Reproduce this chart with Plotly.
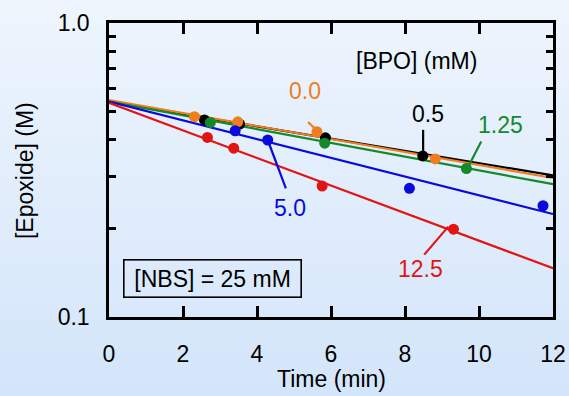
import base64, math
import plotly.graph_objects as go

# ---------------- data ----------------
series_names = ["0.5", "0.0", "1.25", "5.0", "12.5"]
series_colors = ["#000000", "#f07d1e", "#13892c", "#0a0adc", "#e31414"]

t_black = [2.58, 3.53, 5.85, 8.48]
c_black = [0.468, 0.453, 0.407, 0.353]
t_orange = [2.31, 3.48, 5.62, 8.82]
c_orange = [0.480, 0.461, 0.427, 0.345]
t_green = [2.74, 5.83, 9.66]
c_green = [0.459, 0.390, 0.320]
t_blue = [3.41, 4.29, 8.12, 11.73]
c_blue = [0.430, 0.400, 0.274, 0.239]
t_red = [2.66, 3.37, 5.76, 9.31]
c_red = [0.408, 0.375, 0.279, 0.199]

fit_t = [0, 12]
fit_black = [0.540, 0.303]
fit_orange = [0.547, 0.297]
fit_green = [0.540, 0.283]
fit_blue = [0.540, 0.224]
fit_red = [0.535, 0.1465]

x_ticks = [0, 2, 4, 6, 8, 10, 12]
y_ticks = [0.1, 1.0]
y_tick_text = ["0.1", "1.0"]
y_minor = [0.2, 0.3, 0.4, 0.5, 0.6, 0.7, 0.8, 0.9]

pts_t = [t_black, t_orange, t_green, t_blue, t_red]
pts_c = [c_black, c_orange, c_green, c_blue, c_red]
fits = [fit_black, fit_orange, fit_green, fit_blue, fit_red]

# label text position (t, conc) and leader line ends ((t0,c0),(t1,c1))
label_pos = [(8.62, 0.492), (5.29, 0.588), (10.59, 0.450), (4.90, 0.234), (8.42, 0.146)]
leaders = [((8.49, 0.433), (8.49, 0.362)),
           ((5.38, 0.460), (5.58, 0.436)),
           ((10.06, 0.395), (9.74, 0.330)),
           ((4.29, 0.400), (4.78, 0.274)),
           ((8.52, 0.163), (9.17, 0.203))]

FONT = "Liberation Sans, Arial, Helvetica, sans-serif"
FS = 23

fig = go.Figure()

for name, col, f in zip(series_names, series_colors, fits):
    fig.add_trace(go.Scatter(x=fit_t, y=f, mode="lines",
                             line=dict(color=col, width=2.2),
                             showlegend=False, hoverinfo="skip"))
for name, col, (a, b) in zip(series_names, series_colors, leaders):
    fig.add_trace(go.Scatter(x=[a[0], b[0]], y=[a[1], b[1]], mode="lines",
                             line=dict(color=col, width=2.2),
                             showlegend=False, hoverinfo="skip"))
for name, col, tt, cc in zip(series_names, series_colors, pts_t, pts_c):
    fig.add_trace(go.Scatter(x=tt, y=cc, mode="markers", name=name,
                             marker=dict(color=col, size=11),
                             showlegend=False))

annotations = []
for name, col, (lx, ly) in zip(series_names, series_colors, label_pos):
    annotations.append(dict(x=lx, y=math.log10(ly), xref="x", yref="y", text=name,
                            showarrow=False, font=dict(color=col, size=FS, family=FONT),
                            xanchor="center", yanchor="middle"))
annotations.append(dict(x=8.305, y=math.log10(0.7425), xref="x", yref="y", text="[BPO] (mM)",
                        showarrow=False, font=dict(color="black", size=FS, family=FONT),
                        xanchor="center", yanchor="middle"))
annotations.append(dict(x=2.80, y=0.1324, xref="x", yref="paper", text="[NBS] = 25 mM",
                        showarrow=False, font=dict(color="black", size=FS, family=FONT),
                        xanchor="center", yanchor="middle", bordercolor="black",
                        borderwidth=1.6, borderpad=2, width=172, height=32))
annotations.append(dict(x=0.5, y=-0.2105, xref="paper", yref="paper", text="Time (min)",
                        showarrow=False, font=dict(color="black", size=FS, family=FONT),
                        xanchor="center", yanchor="middle"))
annotations.append(dict(x=-0.1908, y=0.4975, xref="paper", yref="paper", text="[Epoxide] (M)",
                        showarrow=False, textangle=-90,
                        font=dict(color="black", size=FS, family=FONT),
                        xanchor="center", yanchor="middle"))

L, R, T, B = 109, 16, 23, 79
W, H = 569, 396
pw, ph = W - L - R, H - T - B

svg = ('<svg xmlns="http://www.w3.org/2000/svg" width="569" height="396" preserveAspectRatio="none">'
       '<defs><linearGradient id="g" x1="0" y1="0" x2="0" y2="1">'
       '<stop offset="0" stop-color="#eef5fd"/><stop offset="1" stop-color="#d3e5fa"/>'
       '</linearGradient></defs><rect width="569" height="396" fill="url(#g)"/></svg>')
src = "data:image/svg+xml;base64," + base64.b64encode(svg.encode()).decode()

fig.update_layout(
    width=W, height=H,
    margin=dict(l=L, r=R, t=T, b=B, autoexpand=False),
    paper_bgcolor="#e1edfb",
    plot_bgcolor="rgba(0,0,0,0)",
    font=dict(family=FONT, size=FS, color="black"),
    annotations=annotations,
    images=[dict(source=src, xref="paper", yref="paper",
                 x=-L / pw, y=1 + T / ph, sizex=W / pw, sizey=H / ph,
                 xanchor="left", yanchor="top", sizing="stretch", layer="below")],
    xaxis=dict(range=[0, 12], tickvals=x_ticks, ticks="inside", ticklen=11, tickwidth=2.5,
               tickcolor="black", showline=True, linecolor="black", linewidth=2.5,
               mirror="ticks", showgrid=False, zeroline=False, automargin=False,
               tickfont=dict(size=FS, family=FONT, color="black"), ticklabelstandoff=15),
    yaxis=dict(type="log", range=[-1, 0], tickvals=y_ticks, ticktext=y_tick_text,
               ticks="inside", ticklen=0, tickwidth=2.5, tickcolor="black",
               showline=True, linecolor="black", linewidth=2.5, mirror="ticks",
               showgrid=False, zeroline=False, automargin=False,
               minor=dict(tickvals=y_minor, ticks="inside", ticklen=7, tickwidth=2.5,
                          tickcolor="black", showgrid=False),
               tickfont=dict(size=FS, family=FONT, color="black"), ticklabelstandoff=12),
)

fig.write_html("out.html", config={"displayModeBar": False},
               post_script="document.body.style.margin='0';document.body.style.padding='0';"
                           "document.body.style.overflow='hidden';")
